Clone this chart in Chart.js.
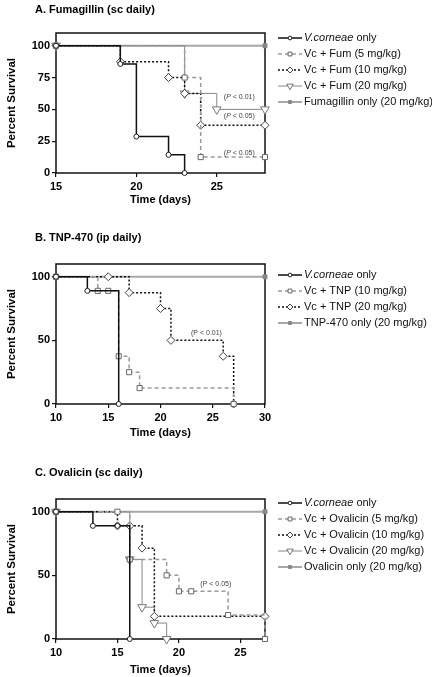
<!DOCTYPE html>
<html>
<head>
<meta charset="utf-8">
<script src="https://cdn.jsdelivr.net/npm/chart.js@4.4.1/dist/chart.umd.min.js"></script>
<style>
  body { margin: 0; background: #fff; width: 432px; height: 677px; overflow: hidden; position: relative; }
  canvas { position: absolute; left: 0; }
</style>
</head>
<body>
<canvas id="panelA" width="432" height="212" style="top:0px"></canvas>
<canvas id="panelB" width="432" height="220" style="top:226px"></canvas>
<canvas id="panelC" width="432" height="216" style="top:461px"></canvas>
<script>
// Panel A - Fumagillin (sc daily)
const fumLabels = ['V.corneae only', 'Vc + Fum (5 mg/kg)', 'Vc + Fum (10 mg/kg)', 'Vc + Fum (20 mg/kg)', 'Fumagillin only (20 mg/kg)'];
const fumVcDays = [15, 19, 20, 22, 23];
const fumVcSurv = [100, 85.7, 28.6, 14.3, 0];
const fum5Days = [15, 23, 24, 28];
const fum5Surv = [100, 75, 12.5, 12.5];
const fum10Days = [15, 19, 22, 23, 24, 28];
const fum10Surv = [100, 87.5, 75, 62.5, 37.5, 37.5];
const fum20Days = [15, 23, 25, 28];
const fum20Surv = [100, 62.5, 50, 50];
const fumOnlyDays = [15, 28];
const fumOnlySurv = [100, 100];
const fumXTicks = [15, 20, 25];
const fumYTicks = [0, 25, 50, 75, 100];
const fumNotes = [
  { x: 26.4, y: 60, text: '< 0.01)' },
  { x: 26.4, y: 45, text: '< 0.05)' },
  { x: 26.4, y: 16, text: '< 0.05)' },
];

// Panel B - TNP-470 (ip daily)
const tnpLabels = ['V.corneae only', 'Vc + TNP (10 mg/kg)', 'Vc + TNP (20 mg/kg)', 'TNP-470 only (20 mg/kg)'];
const tnpVcDays = [10, 13, 16];
const tnpVcSurv = [100, 88.9, 0];
const tnp10Days = [10, 14, 15, 16, 17, 18, 27];
const tnp10Surv = [100, 88.9, 88.9, 37.5, 25, 12.5, 0];
const tnp20Days = [10, 15, 17, 20, 21, 26, 27];
const tnp20Surv = [100, 100, 87.5, 75, 50, 37.5, 0];
const tnpOnlyDays = [10, 30];
const tnpOnlySurv = [100, 100];
const tnpXTicks = [10, 15, 20, 25, 30];
const tnpYTicks = [0, 50, 100];
const tnpNotes = [{ x: 24.4, y: 56, text: '< 0.01)' }];

// Panel C - Ovalicin (sc daily)
const ovaLabels = ['V.corneae only', 'Vc + Ovalicin (5 mg/kg)', 'Vc + Ovalicin (10 mg/kg)', 'Vc + Ovalicin (20 mg/kg)', 'Ovalicin only (20 mg/kg)'];
const ovaVcDays = [10, 13, 15, 16];
const ovaVcSurv = [100, 88.9, 88.9, 0];
const ova5Days = [10, 15, 16, 19, 20, 21, 24, 27];
const ova5Surv = [100, 100, 62.5, 50, 37.5, 37.5, 18.8, 0];
const ova10Days = [10, 15, 16, 17, 18, 27];
const ova10Surv = [100, 88.9, 88.9, 71.4, 17.8, 17.8];
const ova20Days = [10, 16, 17, 18, 19];
const ova20Surv = [100, 62.5, 25, 12.5, 0];
const ovaOnlyDays = [10, 27];
const ovaOnlySurv = [100, 100];
const ovaXTicks = [10, 15, 20, 25];
const ovaYTicks = [0, 50, 100];
const ovaNotes = [{ x: 23, y: 43, text: '< 0.05)' }];

const FONT = '"Liberation Sans", Arial, sans-serif';

const STYLES = {
  vc: { borderColor: '#111', borderWidth: 1.5, borderDash: [], pointStyle: 'circle', pointRadius: 2.5, pointRotation: 0, pointBackgroundColor: '#fff', pointBorderColor: '#222' },
  low: { borderColor: '#9a9a9a', borderWidth: 1.5, borderDash: [4, 3], pointStyle: 'rect', pointRadius: 3.6, pointRotation: 0, pointBackgroundColor: '#fff', pointBorderColor: '#666' },
  mid: { borderColor: '#111', borderWidth: 1.5, borderDash: [2, 2], pointStyle: 'rectRot', pointRadius: 4, pointRotation: 0, pointBackgroundColor: '#fff', pointBorderColor: '#444' },
  high: { borderColor: '#888', borderWidth: 1, borderDash: [], pointStyle: 'triangle', pointRadius: 5, pointRotation: 180, pointBackgroundColor: '#fff', pointBorderColor: '#777' },
  only: { borderColor: '#a8a8a8', borderWidth: 2, borderDash: [], pointStyle: 'rect', pointRadius: 2.8, pointRotation: 0, pointBackgroundColor: '#888', pointBorderColor: '#888' },
};

function toPoints(days, surv) {
  return days.map((d, i) => ({ x: d, y: surv[i] }));
}

function makeDataset(label, days, surv, styleKey) {
  return {
    label,
    data: toPoints(days, surv),
    stepped: 'before',
    clip: false,
    pointBorderWidth: 1,
    ...STYLES[styleKey],
  };
}

function drawMixed(ctx, parts, x, y) {
  parts.forEach((part) => {
    ctx.font = part.font;
    ctx.fillText(part.text, x, y);
    x += ctx.measureText(part.text).width;
  });
}

const panelDeco = {
  id: 'panelDeco',
  beforeDatasetsDraw(chart) {
    const { ctx, chartArea: a } = chart;
    ctx.save();
    ctx.strokeStyle = '#111';
    ctx.lineWidth = 1.5;
    ctx.strokeRect(a.left, a.top, a.right - a.left, a.bottom - a.top);
    ctx.restore();
  },
  afterDraw(chart, args, opts) {
    const { ctx } = chart;
    ctx.save();
    ctx.fillStyle = '#000';
    ctx.textBaseline = 'middle';
    ctx.font = 'bold 11px ' + FONT;
    ctx.fillText(opts.title, 35, opts.titleY);

    // legend
    chart.data.datasets.forEach((ds, i) => {
      const y = opts.legendTop + i * 16;
      ctx.save();
      ctx.strokeStyle = ds.borderColor;
      ctx.lineWidth = ds.borderWidth;
      ctx.setLineDash(ds.borderDash);
      ctx.beginPath();
      ctx.moveTo(278, y);
      ctx.lineTo(302, y);
      ctx.stroke();
      ctx.setLineDash([]);
      ctx.fillStyle = ds.pointBackgroundColor;
      ctx.strokeStyle = ds.pointBorderColor;
      ctx.lineWidth = 1;
      Chart.helpers.drawPoint(ctx, {
        pointStyle: ds.pointStyle,
        rotation: ds.pointRotation,
        radius: ds.pointRadius * 0.75,
        borderWidth: 1,
      }, 290, y);
      ctx.restore();
      ctx.fillStyle = '#111';
      const label = ds.label;
      if (label.startsWith('V.corneae')) {
        drawMixed(ctx, [
          { text: 'V.corneae', font: 'italic 11px ' + FONT },
          { text: label.slice(9), font: '11px ' + FONT },
        ], 304, y);
      } else {
        ctx.font = '11px ' + FONT;
        ctx.fillText(label, 304, y);
      }
    });

    // p-value notes
    const xs = chart.scales.x;
    const ys = chart.scales.y;
    ctx.fillStyle = '#444';
    opts.notes.forEach((note) => {
      const parts = [
        { text: '(', font: '7px ' + FONT },
        { text: 'P', font: (opts.italicP ? 'italic ' : '') + '7px ' + FONT },
        { text: ' ' + note.text, font: '7px ' + FONT },
      ];
      let w = 0;
      parts.forEach((p) => { ctx.font = p.font; w += ctx.measureText(p.text).width; });
      drawMixed(ctx, parts, xs.getPixelForValue(note.x) - w / 2, ys.getPixelForValue(note.y));
    });
    ctx.restore();
  },
};

function makePanel(canvasId, cfg) {
  const canvas = document.getElementById(canvasId);
  const plotHeight = 140;
  return new Chart(canvas, {
    type: 'line',
    data: { datasets: cfg.datasets },
    options: {
      responsive: false,
      animation: false,
      devicePixelRatio: 1,
      layout: { padding: { left: 0, right: 167, top: cfg.plotTop, bottom: 0 } },
      plugins: {
        legend: { display: false },
        tooltip: { enabled: false },
        panelDeco: {
          title: cfg.title,
          titleY: cfg.titleY,
          legendTop: cfg.legendTop,
          notes: cfg.notes,
          italicP: cfg.italicP,
        },
      },
      scales: {
        x: {
          type: 'linear',
          min: cfg.xMin,
          max: cfg.xMax,
          afterBuildTicks: (scale) => { scale.ticks = cfg.xTicks.map((v) => ({ value: v })); },
          afterFit: (scale) => { scale.height = canvas.height - cfg.plotTop - plotHeight; },
          grid: { drawOnChartArea: false, drawTicks: true, tickLength: 4, color: '#111', lineWidth: 1.2 },
          border: { display: false },
          ticks: { color: '#000', font: { family: FONT, size: 11, weight: 'bold' }, padding: 3, maxRotation: 0 },
          title: { display: true, text: 'Time (days)', color: '#000', font: { family: FONT, size: 11, weight: 'bold' }, padding: { top: 0, bottom: cfg.xTitlePad } },
        },
        y: {
          min: 0,
          max: 110,
          afterBuildTicks: (scale) => { scale.ticks = cfg.yTicks.map((v) => ({ value: v })); },
          afterFit: (scale) => { scale.width = 56; },
          grid: { drawOnChartArea: false, drawTicks: true, tickLength: 4, color: '#111', lineWidth: 1.2 },
          border: { display: false },
          ticks: { color: '#000', font: { family: FONT, size: 11, weight: 'bold' }, padding: 2 },
          title: { display: true, text: 'Percent Survival', color: '#000', font: { family: FONT, size: 11.5, weight: 'bold' }, padding: { top: 5, bottom: 0 } },
        },
      },
    },
    plugins: [panelDeco],
  });
}

makePanel('panelA', {
  title: 'A. Fumagillin (sc daily)',
  titleY: 10,
  plotTop: 33,
  legendTop: 38,
  xMin: 15,
  xMax: 28,
  xTitlePad: 5,
  xTicks: fumXTicks,
  yTicks: fumYTicks,
  notes: fumNotes,
  italicP: true,
  datasets: [
    makeDataset(fumLabels[0], fumVcDays, fumVcSurv, 'vc'),
    makeDataset(fumLabels[1], fum5Days, fum5Surv, 'low'),
    makeDataset(fumLabels[2], fum10Days, fum10Surv, 'mid'),
    makeDataset(fumLabels[3], fum20Days, fum20Surv, 'high'),
    makeDataset(fumLabels[4], fumOnlyDays, fumOnlySurv, 'only'),
  ],
});

makePanel('panelB', {
  title: 'B. TNP-470 (ip daily)',
  titleY: 12,
  plotTop: 38,
  legendTop: 49,
  xMin: 10,
  xMax: 30,
  xTitlePad: 6,
  xTicks: tnpXTicks,
  yTicks: tnpYTicks,
  notes: tnpNotes,
  italicP: false,
  datasets: [
    makeDataset(tnpLabels[0], tnpVcDays, tnpVcSurv, 'vc'),
    makeDataset(tnpLabels[1], tnp10Days, tnp10Surv, 'low'),
    makeDataset(tnpLabels[2], tnp20Days, tnp20Surv, 'mid'),
    makeDataset(tnpLabels[3], tnpOnlyDays, tnpOnlySurv, 'only'),
  ],
});

makePanel('panelC', {
  title: 'C. Ovalicin (sc daily)',
  titleY: 12,
  plotTop: 38,
  legendTop: 42,
  xMin: 10,
  xMax: 27,
  xTitlePad: 0,
  xTicks: ovaXTicks,
  yTicks: ovaYTicks,
  notes: ovaNotes,
  italicP: false,
  datasets: [
    makeDataset(ovaLabels[0], ovaVcDays, ovaVcSurv, 'vc'),
    makeDataset(ovaLabels[1], ova5Days, ova5Surv, 'low'),
    makeDataset(ovaLabels[2], ova10Days, ova10Surv, 'mid'),
    makeDataset(ovaLabels[3], ova20Days, ova20Surv, 'high'),
    makeDataset(ovaLabels[4], ovaOnlyDays, ovaOnlySurv, 'only'),
  ],
});
</script>
</body>
</html>
